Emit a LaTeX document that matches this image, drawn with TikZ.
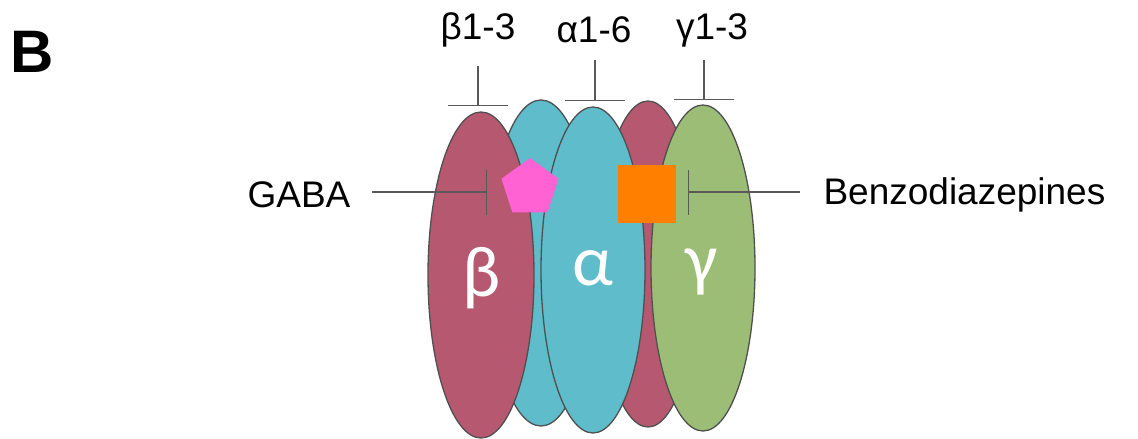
\documentclass[tikz,border=0pt]{standalone}
\usepackage{fontspec}
\setmainfont{Liberation Sans}
\newfontfamily\greekfont{Carlito}
\usetikzlibrary{shapes.geometric,arrows.meta}
\definecolor{subred}{RGB}{182,88,112}
\definecolor{subcyan}{RGB}{94,188,203}
\definecolor{subgreen}{RGB}{155,189,118}
\definecolor{gabapink}{RGB}{255,98,210}
\definecolor{bzorange}{RGB}{255,128,0}
\definecolor{rim}{RGB}{80,80,80}

\begin{document}
\begin{tikzpicture}[x=1pt,y=-1pt,
  subunit/.style={ellipse, draw=rim, line width=1.3pt, inner sep=0pt,
    minimum width=106pt, minimum height=326pt},
  lbl/.style={font=\fontsize{37}{40}\selectfont},
  greek/.style={font=\greekfont\fontsize{72}{76}\selectfont, text=white},
  tbar/.style={line width=1.3pt, draw=black!65, -{Bar[width=#1, line width=1.3pt]}},
  tbar/.default=60pt]

  \useasboundingbox (0,0) rectangle (1138,439);

  % panel letter
  \node[font=\fontsize{60}{60}\bfseries\selectfont] (panel) at (32,52) {B};

  % receptor subunits, back row first
  \node[subunit, fill=subcyan] (alphaback) at (541,263) {};
  \node[subunit, fill=subred, minimum width=100pt] (betaback) at (648,264) {};
  \node[subunit, fill=subred] (beta) at (481,275) {};
  \node[subunit, fill=subcyan, minimum width=104pt] (alpha) at (593,270) {};
  \node[subunit, fill=subgreen, minimum width=104pt] (gamma) at (703,268) {};

  \node[greek] at (482,278) {β};
  \node[greek] at (593,268) {α};
  \node[greek] at (702,272) {γ};

  % isoform labels on top
  \node[lbl] (b13) at (478,30) {β1-3};
  \node[lbl] (a16) at (594,30) {α1-6};
  \node[lbl] (g13) at (712,30) {γ1-3};
  \coordinate (betatop) at (478,106);
  \coordinate (alphatop) at (595,101);
  \coordinate (gammatop) at (704,100);
  \draw[tbar] (478,66) -- (betatop);
  \draw[tbar] (595,60) -- (alphatop);
  \draw[tbar] (704,60) -- (gammatop);

  % binding sites
  \node[regular polygon, regular polygon sides=5, minimum size=60pt,
    fill=gabapink, inner sep=0pt] (gabasite) at (530,188) {};
  \node[rectangle, minimum size=58pt, fill=bzorange, inner sep=0pt]
    (bzsite) at (647,194) {};

  \node[lbl] (gaba) at (299,195) {GABA};
  \node[lbl, anchor=west] (bz) at (820,195) {Benzodiazepines};
  \coordinate (gabaend) at (487,192);
  \coordinate (bzend) at (688,192);
  \draw[tbar=45pt] (372,192) -- (gabaend);
  \draw[tbar=45pt] (800,192) -- (bzend);

\end{tikzpicture}
\end{document}
